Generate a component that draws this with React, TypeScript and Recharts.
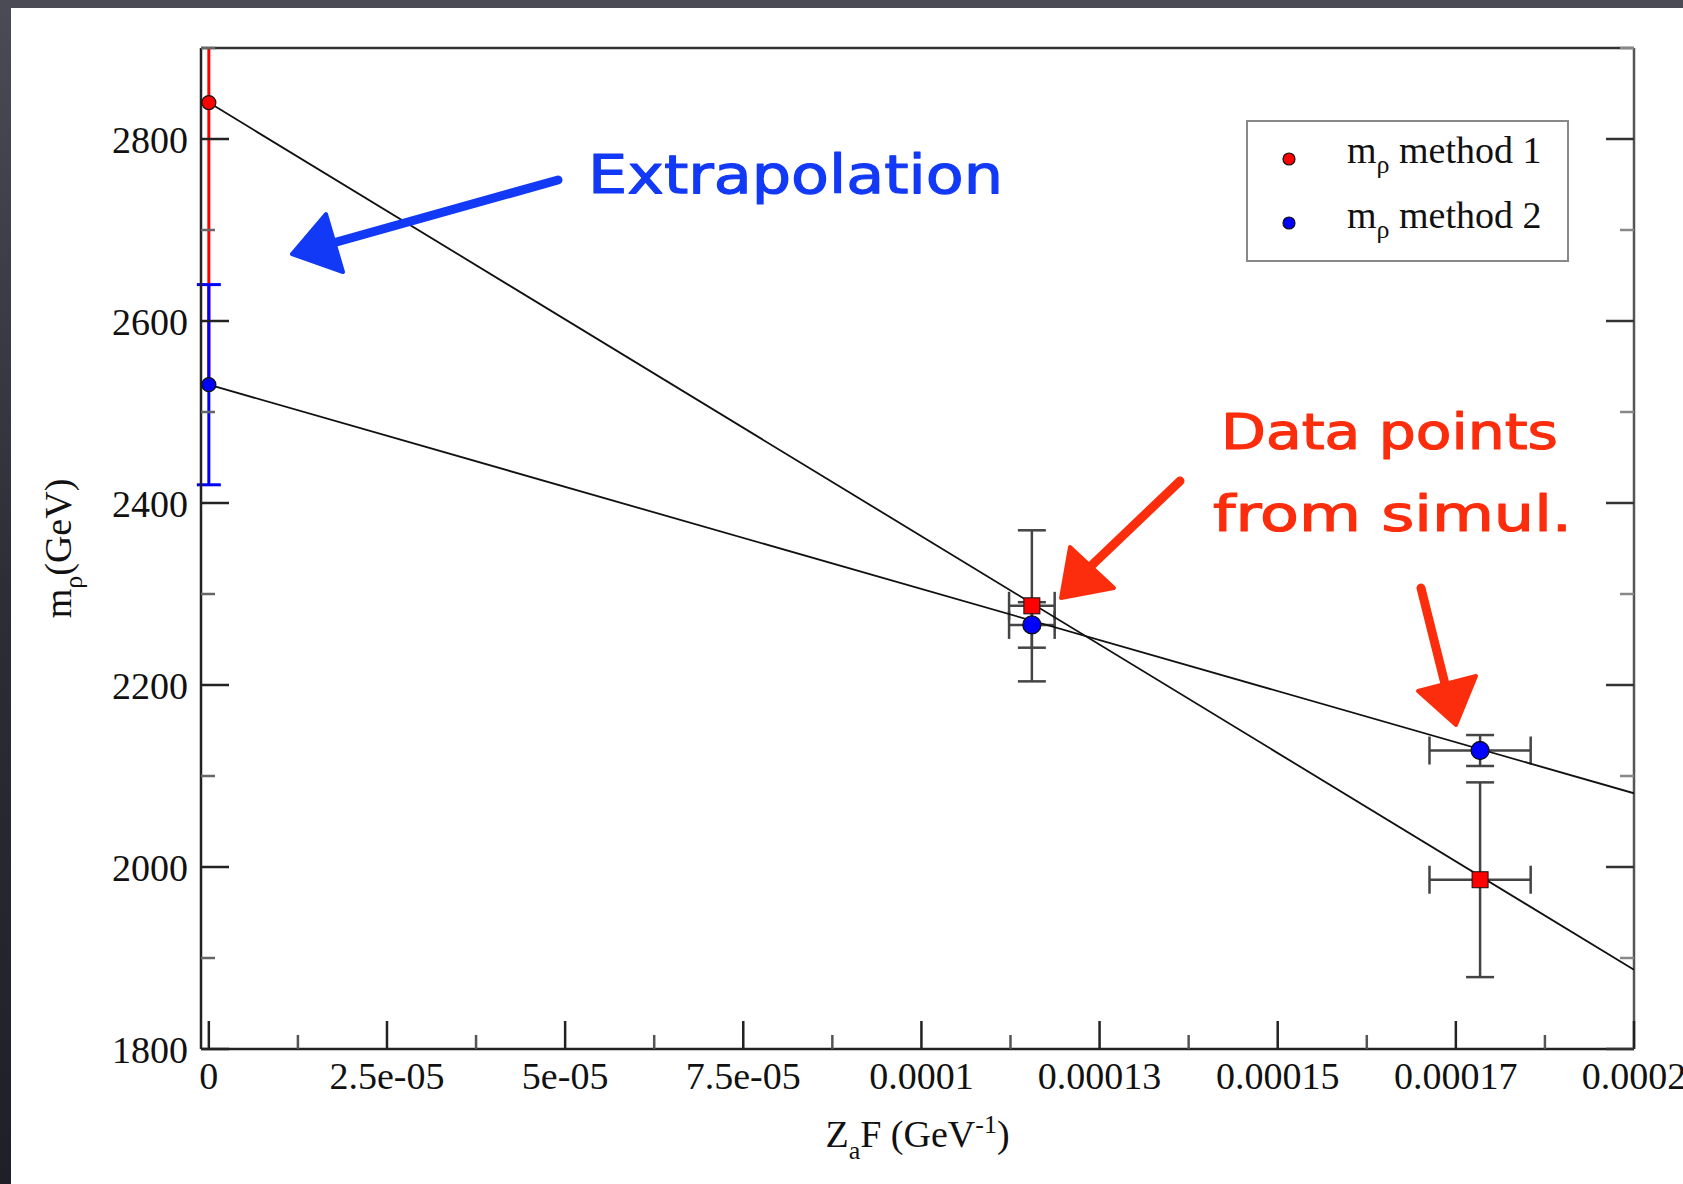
import React from "react";
import { ErrorBar, Label, Legend, Scatter, ScatterChart, XAxis, YAxis } from "recharts";

// axis ticks
const X_MAJOR = [0, 0.000025, 0.00005, 0.000075, 0.0001, 0.000125, 0.00015, 0.000175, 0.0002];
const X_LABELS = ["0", "2.5e-05", "5e-05", "7.5e-05", "0.0001", "0.00013", "0.00015", "0.00017", "0.0002"];
const X_MINOR = [0.0000125, 0.0000375, 0.0000625, 0.0000875, 0.0001125, 0.0001375, 0.0001625, 0.0001875];
const Y_MAJOR = [1800, 2000, 2200, 2400, 2600, 2800];
const Y_MINOR = [1900, 2100, 2300, 2500, 2700, 2900];

// extrapolated values at Z_aF = 0 (method 1 bar runs past the top of the frame)
const M1_EXTRAP = [{ x: 0, y: 2840, ey: [307, 60] }];
const M2_EXTRAP = [{ x: 0, y: 2530, ey: 110 }];

// simulation points
const M1_POINTS = [
  { x: 0.0001155, y: 2287, ex: 0.0000032, ey: 83 },
  { x: 0.0001784, y: 1986, ex: 0.0000071, ey: 107 },
];
const M2_POINTS = [
  { x: 0.0001155, y: 2266, ex: 0.0000032, ey: 25 },
  { x: 0.0001784, y: 2128, ex: 0.0000071, ey: 17 },
];

// straight-line fits, end points
const M1_FIT = [{ x: 0, y: 2840 }, { x: 0.0002, y: 1887 }];
const M2_FIT = [{ x: 0, y: 2530 }, { x: 0.0002, y: 2081 }];

const SERIES_NAMES = ["method 1", "method 2"];
const SERIES_COLORS = ["#ff0000", "#0000ff"];

const serif = "'Liberation Serif', 'Times New Roman', serif";
const hand = "'DejaVu Sans', sans-serif";
const ink = "#111";
const errInk = "#444";

const X_TICKS = [...X_MAJOR, ...X_MINOR].sort((a, b) => a - b);
const Y_TICKS = [...Y_MAJOR, ...Y_MINOR].sort((a, b) => a - b);

function BottomTick({ x, y, payload }: any) {
  const i = X_MAJOR.indexOf(payload.value);
  const major = i >= 0;
  return (
    <g>
      <line x1={x} x2={x} y1={y} y2={y - (major ? 28 : 14)} stroke={major ? "#222" : "#555"} strokeWidth={2.5} />
      {major && (
        <text x={x} y={y + 40} textAnchor="middle" fontFamily={serif} fontSize={38} fill={ink}>
          {X_LABELS[i]}
        </text>
      )}
    </g>
  );
}

function TopTick({ x, y, payload }: any) {
  const major = X_MAJOR.includes(payload.value);
  return <line x1={x} x2={x} y1={y} y2={y + (major ? 28 : 14)} stroke={major ? "#333" : "#666"} strokeWidth={2.5} />;
}

function LeftTick({ x, y, payload }: any) {
  const major = Y_MAJOR.includes(payload.value);
  return (
    <g>
      <line x1={x} x2={x + (major ? 28 : 14)} y1={y} y2={y} stroke={major ? "#222" : "#666"} strokeWidth={2.5} />
      {major && (
        <text x={x - 13} y={y + 14} textAnchor="end" fontFamily={serif} fontSize={38} fill={ink}>
          {payload.value}
        </text>
      )}
    </g>
  );
}

function RightTick({ x, y, payload }: any) {
  const major = Y_MAJOR.includes(payload.value);
  return <line x1={x} x2={x - (major ? 28 : 14)} y1={y} y2={y} stroke={major ? "#333" : "#888"} strokeWidth={2.5} />;
}

function XTitle({ viewBox }: any) {
  const cx = viewBox.x + viewBox.width / 2;
  return (
    <text x={cx} y={viewBox.y + 98} textAnchor="middle" fontFamily={serif} fontSize={38} fill={ink}>
      Z<tspan dy={12} fontSize={26}>a</tspan>
      <tspan dy={-12}>F (GeV</tspan>
      <tspan dy={-14} fontSize={26}>-1</tspan>
      <tspan dy={14}>)</tspan>
    </text>
  );
}

function YTitle({ viewBox }: any) {
  const x = viewBox.x + 71;
  const y = viewBox.y + viewBox.height / 2;
  return (
    <text x={x} y={y} transform={`rotate(-90, ${x}, ${y})`} textAnchor="middle" fontFamily={serif} fontSize={38} fill={ink}>
      m<tspan dy={11} fontSize={26}>ρ</tspan>
      <tspan dy={-11}>(GeV)</tspan>
    </text>
  );
}

function LegendBox() {
  return (
    <svg width={323} height={142} style={{ display: "block" }}>
      <rect x={1} y={1} width={321} height={140} fill="#fff" stroke="#888" strokeWidth={2} />
      {SERIES_NAMES.map((name, i) => (
        <g key={name}>
          <circle cx={43} cy={39 + i * 64} r={6} fill={SERIES_COLORS[i]} stroke={ink} strokeWidth={1.2} />
          <text x={101} y={43 + i * 65} fontFamily={serif} fontSize={38} fill={ink}>
            m<tspan dy={10} fontSize={26}>ρ</tspan>
            <tspan dy={-10}> {name}</tspan>
          </text>
        </g>
      ))}
    </svg>
  );
}

const dot = (color: string, r: number) => (p: any) =>
  <circle cx={p.cx} cy={p.cy} r={r} fill={color} stroke={ink} strokeWidth={1.3} />;
const square = (color: string, s: number) => (p: any) =>
  <rect x={p.cx - s / 2} y={p.cy - s / 2} width={s} height={s} fill={color} stroke={ink} strokeWidth={1} />;
const nothing = () => <g />;

function Annotations() {
  const blue = "#1239f5";
  const red = "#fb2d0c";
  const note = { fontFamily: hand, strokeWidth: 1.2, strokeLinejoin: "round" as const };
  return (
    <svg width={1683} height={1184} style={{ position: "absolute", left: 0, top: 0, pointerEvents: "none" }}>
      <polyline points="558,180 333,243" stroke={blue} strokeWidth={9} strokeLinecap="round" fill="none" />
      <polygon points="292,254 326,214 343,272" fill={blue} stroke={blue} strokeWidth={4} strokeLinejoin="round" />
      <text x={588} y={193} textLength={415} lengthAdjust="spacingAndGlyphs" fontSize={54} fill={blue} stroke={blue} {...note}>
        Extrapolation
      </text>

      <polyline points="1180,481 1090,567" stroke={red} strokeWidth={9} strokeLinecap="round" fill="none" />
      <polygon points="1061,598 1070,547 1114,588" fill={red} stroke={red} strokeWidth={4} strokeLinejoin="round" />
      <polyline points="1421,588 1446,688" stroke={red} strokeWidth={9} strokeLinecap="round" fill="none" />
      <polygon points="1456,725 1418,691 1476,676" fill={red} stroke={red} strokeWidth={4} strokeLinejoin="round" />
      <text x={1221} y={449} textLength={337} lengthAdjust="spacingAndGlyphs" fontSize={50} fill={red} stroke={red} {...note}>
        Data points
      </text>
      <text x={1213} y={531} textLength={359} lengthAdjust="spacingAndGlyphs" fontSize={50} fill={red} stroke={red} {...note}>
        from simul.
      </text>
    </svg>
  );
}

export default function App() {
  return (
    <div
      style={{
        position: "absolute",
        left: 0,
        top: 0,
        width: 1683,
        height: 1184,
        overflow: "hidden",
        background: "linear-gradient(180deg, #4a4b55 0%, #2c2d35 50%, #1f2027 100%)",
      }}
    >
      <div style={{ position: "absolute", left: 11, top: 8, right: 0, bottom: 0, background: "#fff" }} />
      <div style={{ position: "absolute", left: 0, top: 0 }}>
        <ScatterChart width={1683} height={1184} margin={{ top: 47, right: 48, bottom: 74, left: 0 }}>
          <XAxis
            xAxisId="b"
            type="number"
            dataKey="x"
            orientation="bottom"
            domain={[-0.0000011, 0.0002]}
            allowDataOverflow
            ticks={X_TICKS}
            interval={0}
            height={61}
            tickSize={0}
            tickMargin={0}
            tickLine={false}
            tick={BottomTick}
            axisLine={{ stroke: "#222", strokeWidth: 2.5 }}
          >
            <Label content={XTitle} />
          </XAxis>
          <XAxis
            xAxisId="t"
            type="number"
            orientation="top"
            domain={[-0.0000011, 0.0002]}
            allowDataOverflow
            ticks={X_TICKS}
            interval={0}
            height={1}
            tickSize={0}
            tickMargin={0}
            tickLine={false}
            tick={TopTick}
            axisLine={{ stroke: "#333", strokeWidth: 2.5 }}
          />
          <YAxis
            yAxisId="l"
            type="number"
            dataKey="y"
            orientation="left"
            domain={[1800, 2900]}
            allowDataOverflow
            ticks={Y_TICKS}
            interval={0}
            width={201}
            tickSize={0}
            tickMargin={0}
            tickLine={false}
            tick={LeftTick}
            axisLine={{ stroke: "#222", strokeWidth: 2.5 }}
          >
            <Label content={YTitle} />
          </YAxis>
          <YAxis
            yAxisId="r"
            type="number"
            orientation="right"
            domain={[1800, 2900]}
            allowDataOverflow
            ticks={Y_TICKS}
            interval={0}
            width={1}
            tickSize={0}
            tickMargin={0}
            tickLine={false}
            tick={RightTick}
            axisLine={{ stroke: "#555", strokeWidth: 2.5 }}
          />

          <Scatter xAxisId="b" yAxisId="l" data={M1_FIT} line={{ stroke: ink, strokeWidth: 1.8 }} shape={nothing} legendType="none" isAnimationActive={false} />
          <Scatter xAxisId="b" yAxisId="l" data={M2_FIT} line={{ stroke: ink, strokeWidth: 1.8 }} shape={nothing} legendType="none" isAnimationActive={false} />

          <Scatter xAxisId="b" yAxisId="l" data={M1_EXTRAP} shape={dot(SERIES_COLORS[0], 7)} isAnimationActive={false}>
            <ErrorBar dataKey="ey" direction="y" width={0} stroke={SERIES_COLORS[0]} strokeWidth={3} isAnimationActive={false} />
          </Scatter>
          <Scatter xAxisId="b" yAxisId="l" data={M2_EXTRAP} shape={dot(SERIES_COLORS[1], 7)} isAnimationActive={false}>
            <ErrorBar dataKey="ey" direction="y" width={12} stroke={SERIES_COLORS[1]} strokeWidth={3} isAnimationActive={false} />
          </Scatter>

          <Scatter xAxisId="b" yAxisId="l" name={SERIES_NAMES[0]} data={M1_POINTS} shape={square(SERIES_COLORS[0], 16)} isAnimationActive={false}>
            <ErrorBar dataKey="ey" direction="y" width={14} stroke={errInk} strokeWidth={2.5} isAnimationActive={false} />
            <ErrorBar dataKey="ex" direction="x" width={14} stroke={errInk} strokeWidth={2.5} isAnimationActive={false} />
          </Scatter>
          <Scatter xAxisId="b" yAxisId="l" name={SERIES_NAMES[1]} data={M2_POINTS} shape={dot(SERIES_COLORS[1], 9)} isAnimationActive={false}>
            <ErrorBar dataKey="ey" direction="y" width={14} stroke={errInk} strokeWidth={2.5} isAnimationActive={false} />
            <ErrorBar dataKey="ex" direction="x" width={14} stroke={errInk} strokeWidth={2.5} isAnimationActive={false} />
          </Scatter>

          <Legend
            layout="vertical"
            align="center"
            verticalAlign="middle"
            content={() => <LegendBox />}
            wrapperStyle={{ left: 1246, top: 120, width: 323, height: 142 }}
          />
        </ScatterChart>
      </div>
      <Annotations />
    </div>
  );
}
